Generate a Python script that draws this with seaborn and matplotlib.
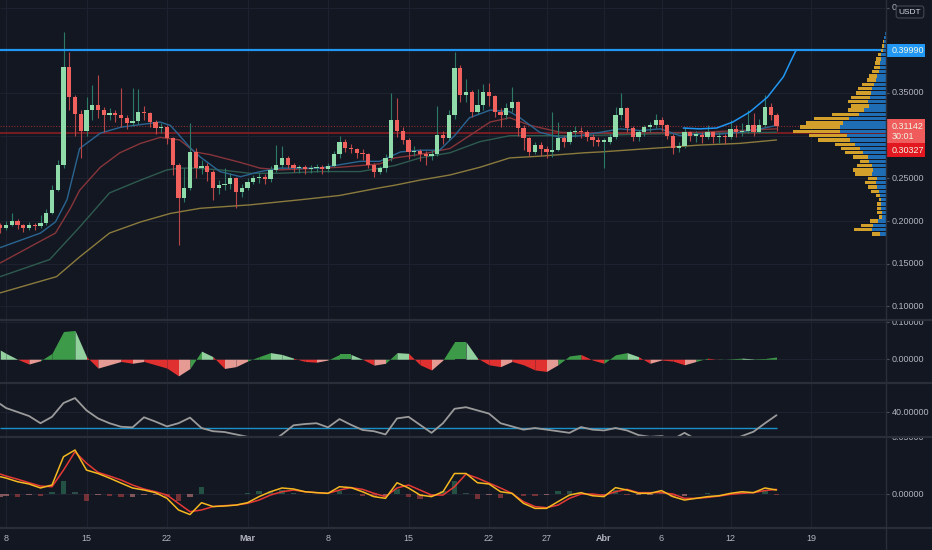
import numpy as np
import matplotlib.pyplot as plt
import seaborn as sns
from matplotlib.lines import Line2D
from matplotlib.patches import Rectangle

# ---- data (x in days, day 0 = 8 Feb) ----
# half-day candles from day -0.5 to day 67
first_open = 0.195
candle_close = [
    0.192, 0.196, 0.200, 0.195, 0.192, 0.196, 0.194, 0.198, 0.210, 0.237,
    0.266, 0.380, 0.345, 0.325, 0.305, 0.330, 0.336, 0.330, 0.324, 0.326,
    0.324, 0.321, 0.315, 0.317, 0.328, 0.326, 0.316, 0.309, 0.310, 0.297,
    0.266, 0.227, 0.239, 0.281, 0.262, 0.265, 0.258, 0.239, 0.242, 0.243,
    0.250, 0.234, 0.239, 0.246, 0.250, 0.252, 0.249, 0.260, 0.266, 0.274,
    0.266, 0.262, 0.263, 0.261, 0.262, 0.263, 0.261, 0.265, 0.278, 0.293,
    0.286, 0.284, 0.280, 0.278, 0.266, 0.258, 0.262, 0.274, 0.318, 0.305,
    0.295, 0.281, 0.282, 0.278, 0.276, 0.278, 0.301, 0.297, 0.324, 0.379,
    0.348, 0.351, 0.328, 0.336, 0.351, 0.346, 0.328, 0.324, 0.332, 0.339,
    0.309, 0.297, 0.281, 0.289, 0.284, 0.281, 0.283, 0.297, 0.293, 0.304,
    0.306, 0.304, 0.299, 0.295, 0.293, 0.293, 0.298, 0.324, 0.332, 0.309,
    0.298, 0.304, 0.310, 0.312, 0.318, 0.312, 0.300, 0.286, 0.288, 0.304,
    0.300, 0.301, 0.299, 0.304, 0.298, 0.300, 0.298, 0.308, 0.304, 0.306,
    0.312, 0.304, 0.312, 0.334, 0.324, 0.3114]
candle_high = [
    0.198, 0.200, 0.210, 0.202, 0.197, 0.199, 0.198, 0.207, 0.214, 0.242,
    0.272, 0.421, 0.398, 0.348, 0.330, 0.345, 0.359, 0.371, 0.334, 0.333,
    0.330, 0.356, 0.324, 0.356, 0.355, 0.335, 0.328, 0.318, 0.315, 0.312,
    0.298, 0.268, 0.262, 0.315, 0.286, 0.272, 0.268, 0.260, 0.248, 0.262,
    0.256, 0.252, 0.244, 0.250, 0.254, 0.256, 0.255, 0.264, 0.289, 0.288,
    0.276, 0.268, 0.266, 0.266, 0.266, 0.267, 0.266, 0.268, 0.282, 0.300,
    0.296, 0.290, 0.286, 0.284, 0.280, 0.268, 0.265, 0.278, 0.350, 0.344,
    0.310, 0.297, 0.288, 0.285, 0.282, 0.283, 0.335, 0.305, 0.330, 0.398,
    0.383, 0.366, 0.353, 0.355, 0.360, 0.362, 0.348, 0.333, 0.338, 0.357,
    0.341, 0.312, 0.299, 0.293, 0.293, 0.288, 0.328, 0.316, 0.300, 0.307,
    0.311, 0.310, 0.307, 0.302, 0.298, 0.297, 0.302, 0.334, 0.350, 0.334,
    0.311, 0.307, 0.313, 0.316, 0.325, 0.322, 0.314, 0.302, 0.293, 0.310,
    0.306, 0.305, 0.304, 0.312, 0.306, 0.304, 0.302, 0.318, 0.312, 0.315,
    0.330, 0.326, 0.320, 0.348, 0.338, 0.327]
candle_low = [
    0.186, 0.190, 0.194, 0.191, 0.187, 0.190, 0.189, 0.192, 0.196, 0.208,
    0.235, 0.262, 0.330, 0.300, 0.274, 0.300, 0.318, 0.321, 0.304, 0.318,
    0.316, 0.310, 0.308, 0.311, 0.314, 0.318, 0.310, 0.302, 0.303, 0.290,
    0.254, 0.172, 0.222, 0.236, 0.250, 0.255, 0.247, 0.225, 0.232, 0.236,
    0.238, 0.215, 0.228, 0.236, 0.243, 0.245, 0.244, 0.246, 0.258, 0.262,
    0.262, 0.257, 0.256, 0.255, 0.256, 0.257, 0.255, 0.257, 0.263, 0.274,
    0.281, 0.280, 0.274, 0.272, 0.262, 0.252, 0.255, 0.258, 0.270, 0.298,
    0.290, 0.273, 0.276, 0.270, 0.266, 0.272, 0.276, 0.290, 0.295, 0.320,
    0.340, 0.340, 0.322, 0.325, 0.330, 0.335, 0.322, 0.310, 0.320, 0.328,
    0.300, 0.283, 0.276, 0.278, 0.276, 0.274, 0.275, 0.282, 0.287, 0.290,
    0.298, 0.297, 0.294, 0.288, 0.288, 0.262, 0.290, 0.296, 0.318, 0.304,
    0.294, 0.294, 0.300, 0.304, 0.309, 0.305, 0.296, 0.279, 0.281, 0.286,
    0.294, 0.293, 0.292, 0.296, 0.291, 0.292, 0.290, 0.296, 0.298, 0.300,
    0.303, 0.300, 0.303, 0.310, 0.318, 0.306]

# moving averages (day, value)
ma_blue_days = [-0.5, 3, 4.3, 5.3, 6.4, 8.2, 10, 11.7, 13.4, 14.3, 15.1, 16, 16.9, 18.6,
                20.4, 22.1, 23.8, 27.3, 29, 30.8, 32.5, 34.3, 36, 37.7, 39, 40.3, 42.1,
                43.8, 44.7, 46.4, 48.2, 49.9, 51.7, 53.4, 55.1, 56.9, 58.6, 60.3, 62.1,
                63.8, 65.6, 67]
ma_blue = [0.169, 0.186, 0.199, 0.225, 0.285, 0.303, 0.310, 0.313, 0.316, 0.312, 0.300,
           0.286, 0.275, 0.258, 0.252, 0.258, 0.262, 0.262, 0.266, 0.270, 0.270, 0.281,
           0.283, 0.283, 0.300, 0.321, 0.330, 0.328, 0.321, 0.304, 0.298, 0.300, 0.304,
           0.308, 0.306, 0.308, 0.300, 0.302, 0.302, 0.304, 0.308, 0.312]
ma_red_days = [-0.5, 2.1, 4.3, 5.6, 6.4, 8.2, 9.9, 11.7, 13.4, 15.1, 16.4, 17.7, 20.3,
               22.1, 23.8, 27.3, 29, 30.8, 32.5, 33.8, 36, 38.6, 40.3, 42.1, 43.8, 45.6,
               48.2, 49.9, 53.4, 60.3, 67]
ma_red = [0.151, 0.170, 0.186, 0.215, 0.236, 0.263, 0.280, 0.291, 0.298, 0.295, 0.281,
          0.278, 0.269, 0.262, 0.260, 0.262, 0.263, 0.265, 0.267, 0.274, 0.278, 0.285,
          0.300, 0.316, 0.321, 0.312, 0.304, 0.303, 0.303, 0.304, 0.308]
ma_teal_days = [-0.5, 3.8, 6.4, 9.0, 11.7, 14.0, 15.1, 16.4, 18.6, 21.2, 23.8, 27.3, 30.8,
                33.8, 36, 38.6, 41.2, 43.8, 46.4, 49.9, 56, 67]
ma_teal = [0.135, 0.155, 0.193, 0.233, 0.248, 0.260, 0.262, 0.262, 0.260, 0.256, 0.256,
           0.258, 0.258, 0.265, 0.274, 0.280, 0.293, 0.300, 0.300, 0.300, 0.302, 0.304]
ma_gold_days = [-0.5, 4.4, 6.4, 9.0, 11.7, 14.3, 16.9, 21.2, 25.6, 29, 32.5, 33.8, 36,
                38.6, 41.2, 43.8, 46.4, 50.3, 51.7, 56, 60.3, 63.8, 67]
ma_gold = [0.116, 0.135, 0.158, 0.186, 0.199, 0.209, 0.215, 0.219, 0.225, 0.230, 0.239,
           0.242, 0.248, 0.254, 0.263, 0.274, 0.276, 0.280, 0.281, 0.285, 0.289, 0.291,
           0.295]

# drawn arc
arc_days = [58.9, 60.3, 61.8, 63.2, 64.7, 66.2, 67.6, 68.3, 68.7]
arc_vals = [0.309, 0.308, 0.309, 0.316, 0.328, 0.345, 0.369, 0.389, 0.400]

resistance = 0.3999
last_price = 0.31142
ref_price = 0.30327

# volume profile rows (0.185 .. 0.420)
vp_price = np.round(np.arange(0.185, 0.4201, 0.005), 3)
vp_up = [6, 14, 13, 8, 4, 4, 5, 5, 5, 6, 7, 9, 10, 9, 14, 13, 14, 17, 18, 23, 26, 31, 36,
         39, 46, 46, 43, 37, 27, 22, 17, 18, 16, 15, 14, 12, 10, 9, 7.5, 6.5, 6, 5, 4.5,
         3.5, 2.5, 2, 1.5, 1]
vp_down = [8, 18, 12, 8, 3, 5, 4, 4, 2, 4, 8, 9, 11, 9, 17, 20, 15, 9, 15, 18, 19, 20, 32,
           38, 47, 40, 37, 35, 27, 16, 18, 20, 19, 15, 14, 12, 9, 8, 6.5, 6, 5.5, 4.5, 3,
           1.7, 1.5, 1, 0.5, 0.5]

# daily indicator values, day -0.5 then days 0..67
ind_days = np.r_[-0.5, np.arange(68)]
ao = [0.025, 0.016, 0.000, -0.013, -0.004, 0.016, 0.075, 0.078, 0.007, -0.024, -0.015,
      -0.006, -0.011, -0.006, -0.015, -0.024, -0.045, -0.025, 0.022, 0.007, -0.025,
      -0.020, -0.005, 0.007, 0.018, 0.013, 0.003, -0.006, -0.008, -0.002, 0.013, 0.013,
      0.000, -0.016, -0.011, 0.018, 0.016, -0.015, -0.029, -0.002, 0.047, 0.047, 0.003,
      -0.015, -0.020, -0.006, -0.015, -0.029, -0.033, -0.015, 0.009, 0.013, -0.002,
      -0.011, 0.012, 0.018, 0.007, -0.011, -0.002, -0.005, -0.015, -0.006, 0.003,
      -0.001, 0.001, 0.003, 0.001, 0.002, 0.006]
osc = [45, 42.5, 40, 37.5, 33, 37, 45.6, 48.7, 41, 36, 33, 30.8, 30.4, 36.7, 34, 31, 33,
       36.5, 30, 28, 27.5, 26, 24.5, 22, 21, 26, 31.7, 32.5, 33, 30.4, 35.6, 32, 28.8, 28,
       26, 36, 37, 32, 27, 33, 42, 43, 41, 39, 33, 31, 29, 30, 29, 28, 27, 30.6, 29, 28.5,
       30, 28.5, 25.6, 24.5, 25, 23, 27, 23, 22, 22, 22, 25, 27.7, 33, 38]
osc_level = 30
macd = [0.0152, 0.014, 0.0108, 0.0088, 0.0053, 0.0079, 0.0327, 0.0386, 0.021, 0.018,
        0.014, 0.0096, 0.0053, 0.0035, 0.0012, -0.0038, -0.014, -0.018, -0.0076, -0.011,
        -0.0105, -0.0097, -0.0076, -0.0023, 0.002, 0.0053, 0.0044, 0.002, 0.0012, 0.0006,
        0.0064, 0.0056, 0.002, -0.0023, -0.0038, 0.0099, 0.0053, -0.0009, -0.0023, 0.002,
        0.018, 0.018, 0.0099, 0.0088, 0.002, 0.0006, -0.0082, -0.0126, -0.0126, -0.0067,
        -0.0009, 0.0012, -0.0015, -0.0023, 0.0056, 0.0035, 0.0006, 0.0006, 0.003, -0.0023,
        -0.0053, -0.0038, -0.0023, -0.0015, 0.0006, 0.002, 0.0012, 0.0053, 0.0035]
signal = [0.0175, 0.0158, 0.013, 0.0099, 0.007, 0.0064, 0.021, 0.037, 0.027, 0.019,
          0.0158, 0.0123, 0.0079, 0.0044, 0.002, -0.0009, -0.0082, -0.0155, -0.014, -0.011,
          -0.0102, -0.0097, -0.0082, -0.0053, -0.0009, 0.002, 0.0035, 0.002, 0.0012,
          0.0006, 0.0035, 0.0056, 0.0041, 0.0006, -0.0023, 0.0053, 0.0079, 0.0035, -0.0009,
          -0.0009, 0.0064, 0.0175, 0.014, 0.0096, 0.0053, 0.0006, -0.0067, -0.011, -0.012,
          -0.0097, -0.0038, 0.0, 0.0, -0.0012, 0.002, 0.0041, 0.0012, 0.0012, 0.0012, 0.0,
          -0.0038, -0.0038, -0.003, -0.0018, -0.0003, 0.0006, 0.0012, 0.003, 0.0041]

tick_days = [0, 7, 14, 21, 28, 35, 42, 47, 52, 57, 63, 70]
tick_labels = ['8', '15', '22', 'Mar', '8', '15', '22', '27', 'Abr', '6', '12', '19']

# ---- style ----
BG = '#131722'
GRID = '#1e2230'
SEP = '#2a2e39'
TXT = '#b2b5be'
UP, DOWN = '#8fdcaa', '#f0605d'
UP_W, DOWN_W = '#2c7a66', '#b84848'

sns.set_theme(style='dark', rc={'axes.facecolor': BG, 'figure.facecolor': BG})
plt.rcParams['font.family'] = ['Liberation Sans', 'DejaVu Sans']

W, H = 932, 550
PX = 11.5                      # pixels per day
X0, X1 = -6 / PX, (W - 6) / PX
XR = (886 - 6) / PX            # right edge of plotting area
XL = (892 - 6) / PX            # scale labels
FS = 6.5

fig = plt.figure(figsize=(W / 100, H / 100), dpi=100)


def panel(top, bottom, ylim):
    ax = fig.add_axes([0, 1 - bottom / H, 1, (bottom - top) / H])
    ax.set_xlim(X0, X1)
    ax.set_ylim(*ylim)
    ax.set_facecolor(BG)
    for s in ax.spines.values():
        s.set_visible(False)
    ax.set_xticks([])
    ax.set_yticks([])
    ax.vlines(tick_days, *ylim, color=GRID, lw=0.8, zorder=0)
    return ax


def scale(ax, vals, labels):
    ax.hlines(vals, X0, XR, color=GRID, lw=0.8, zorder=0)
    for v, lab in zip(vals, labels):
        if lab:
            ax.hlines(v, XR, XR + 3 / PX, color='#50535e', lw=0.8)
            ax.text(XL, v, lab, color=TXT, fontsize=FS, va='center', ha='left',
                    clip_on=True)


ax1 = panel(0, 320, (0.08419, 0.45890))
ax2 = panel(320, 383, (-0.0643, 0.1062))
ax3 = panel(383, 437, (24.4, 58.1))
ax4 = panel(437, 528, (-0.0298, 0.05))

# ---- price panel ----
scale(ax1, [0.10, 0.15, 0.20, 0.25, 0.30, 0.35, 0.40, 0.45],
      ['0.10000', '0.15000', '0.20000', '0.25000', '', '0.35000', '', '0'])

for d, v, c in [(ma_gold_days, ma_gold, '#8a7b3d'), (ma_teal_days, ma_teal, '#2e5b4f'),
                (ma_red_days, ma_red, '#86353a'), (ma_blue_days, ma_blue, '#2a6591')]:
    sns.lineplot(x=d, y=v, ax=ax1, color=c, lw=1, legend=False, zorder=2)

close = np.array(candle_close)
opens = np.r_[first_open, close[:-1]]
cdays = np.arange(len(close)) * 0.5 - 0.5
up = close >= opens
ax1.vlines(cdays[up], np.array(candle_low)[up], np.array(candle_high)[up],
           color=UP_W, lw=0.8, zorder=3)
ax1.vlines(cdays[~up], np.array(candle_low)[~up], np.array(candle_high)[~up],
           color=DOWN_W, lw=0.8, zorder=3)
body = np.maximum(np.abs(close - opens), 0.0015)
ax1.bar(cdays, body, bottom=np.minimum(close, opens), width=0.38,
        color=np.where(up, UP, DOWN), lw=0, zorder=4)

ax1.hlines(resistance, X0, XR, color='#2196f3', lw=1.6, zorder=5)
ax1.hlines(ref_price, X0, XR, color='#801c22', lw=1.3, zorder=1)
ax1.hlines(last_price, X0, XR, color='#8a2c2c', lw=0.8, ls=(0, (1, 1.5)), zorder=1)
sns.lineplot(x=arc_days, y=arc_vals, ax=ax1, color='#2196f3', lw=1.1, legend=False,
             zorder=5)

# volume profile
vp_up_w = np.array(vp_up) / PX
vp_dn_w = np.array(vp_down) / PX
ax1.barh(vp_price, vp_up_w, left=XR - vp_up_w, height=0.0040, color='#1f6db4', lw=0,
         zorder=6)
ax1.barh(vp_price, vp_dn_w, left=XR - vp_up_w - vp_dn_w, height=0.0040,
         color='#d4a02c', lw=0, zorder=6)

# price labels on the scale
bw = (925 - 886) / PX
ax1.add_patch(Rectangle((XR, resistance - 0.0077), bw, 0.0153, fc='#2196f3', ec='none',
                        zorder=8, clip_on=False))
ax1.text(XL, resistance, '0.39990', color='#eef6e4', fontsize=FS, va='center', zorder=9)
ax1.add_patch(Rectangle((XR, last_price - 0.0200), bw, 0.0281, fc='#f05b5b', ec='none',
                        zorder=8, clip_on=False))
ax1.text(XL, last_price - 0.0012, '0.31142', color='#eef6e4', fontsize=FS, va='center',
         zorder=9)
ax1.text(XL, last_price - 0.0129, '30:01', color='#eef6e4', fontsize=FS, va='center',
         zorder=9)
ax1.add_patch(Rectangle((XR, last_price - 0.0364), bw, 0.0164, fc='#e3171f', ec='none',
                        zorder=8, clip_on=False))
ax1.text(XL, last_price - 0.0282, '0.30327', color='#eef6e4', fontsize=FS, va='center',
         zorder=9)

# ---- oscillator histogram ----
scale(ax2, [0.0, 0.1], ['0.00000', '0.10000'])
for i in range(len(ao) - 1):
    v0, v1 = ao[i], ao[i + 1]
    if v1 >= 0:
        col = '#3d9a48' if v1 >= v0 else '#92d09e'
    else:
        col = '#e0302f' if v1 < v0 else '#e59a94'
    ax2.fill_between(ind_days[i:i + 2], 0, ao[i:i + 2], color=col, lw=0, zorder=2)

# ---- line oscillator ----
scale(ax3, [40], ['40.00000'])
ax3.hlines(osc_level, X0, ind_days[-1], color='#1b8fc7', lw=1, zorder=2)
sns.lineplot(x=ind_days, y=osc, ax=ax3, color='#9b9b9b', lw=1.3, legend=False, zorder=3)

# ---- MACD ----
scale(ax4, [0.0, 0.05], ['0.00000', '0.05000'])
hist = np.array(macd) - np.array(signal)
prev = np.r_[hist[0], hist[:-1]]
hcol = np.where(hist >= 0, np.where(hist >= prev, '#2f7a5e', '#3f6f60'),
                np.where(hist < prev, '#b54343', '#c98080'))
ax4.bar(ind_days, hist, width=0.45, color=hcol, alpha=0.6, lw=0, zorder=2)
sns.lineplot(x=ind_days, y=signal, ax=ax4, color='#e53935', lw=1.1, legend=False,
             zorder=3)
sns.lineplot(x=ind_days, y=macd, ax=ax4, color='#f5b820', lw=1.1, legend=False, zorder=4)

ax4.set_xticks(tick_days)
ax4.set_xticklabels(tick_labels)
ax4.tick_params(axis='x', length=0, pad=4.5, labelsize=FS, labelcolor=TXT)
for t in ax4.get_xticklabels():
    if t.get_text() in ('Mar', 'Abr'):
        t.set_fontweight('bold')

# ---- separators ----
for y in (320, 383, 437, 528):
    fig.add_artist(Line2D([0, 1], [1 - y / H] * 2, transform=fig.transFigure,
                          color=SEP, lw=1.6))
fig.add_artist(Line2D([886 / W] * 2, [0, 1], transform=fig.transFigure, color=SEP,
                      lw=1.0))

fig.text(910 / W, 1 - 12 / H, 'USDT', ha='center', va='center', fontsize=6,
         color='#d1d4dc', zorder=10,
         bbox=dict(boxstyle='round,pad=0.3', fc=BG, ec='#434651', lw=0.8))

fig.savefig('out.png', dpi=100, facecolor=BG)
